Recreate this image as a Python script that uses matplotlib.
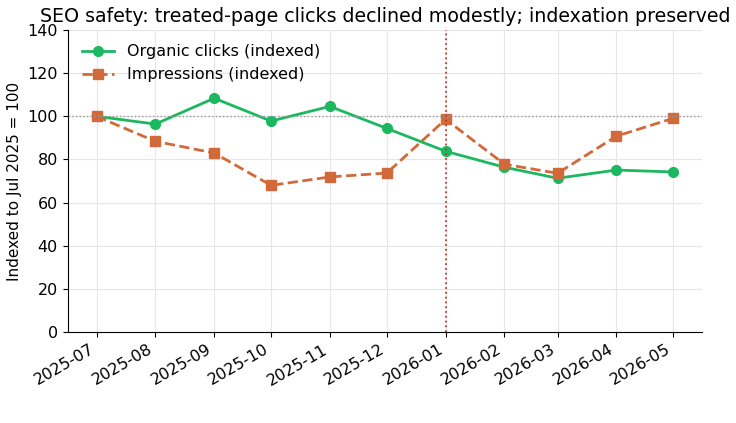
import numpy as np
import pandas as pd
import matplotlib
matplotlib.use("Agg")
from matplotlib import pyplot
import matplotlib.dates as mdates

months = ["2025-07", "2025-08", "2025-09", "2025-10", "2025-11", "2025-12",
          "2026-01", "2026-02", "2026-03", "2026-04", "2026-05"]
clicks = [100.0, 96.4, 108.4, 97.8, 104.6, 94.4, 83.8, 76.4, 71.3, 75.1, 74.2]
impressions = [100.0, 88.4, 83.0, 68.0, 71.9, 73.7, 98.6, 77.8, 73.6, 90.8, 99.1]
change_date = "2026-01"

dates = pd.to_datetime(months)

fig, ax = pyplot.subplots(figsize=(7.36, 4.23), dpi=100)
fig.subplots_adjust(left=0.092, right=0.954, top=0.929, bottom=0.215)

ax.plot(dates, clicks, color="#1bb860", lw=2, marker="o", ms=7,
        label="Organic clicks (indexed)")
ax.plot(dates, impressions, color="#d2693a", lw=2, ls="--", marker="s", ms=7,
        label="Impressions (indexed)")
ax.axhline(100, color="#999999", lw=1, ls=":")
ax.axvline(pd.to_datetime(change_date), color="#c0392b", lw=1.3, ls=":")

ax.set_ylim(0, 140)
ax.set_ylabel("Indexed to Jul 2025 = 100", fontsize=11)
ax.set_title("SEO safety: treated-page clicks declined modestly; indexation preserved",
             fontsize=13.7)
ax.set_xticks(dates)
ax.xaxis.set_major_formatter(mdates.DateFormatter("%Y-%m"))
ax.tick_params(labelsize=11.5)
for lbl in ax.get_xticklabels():
    lbl.set_rotation(30)
    lbl.set_ha("right")
ax.grid(True, color="#e6e6e6", lw=0.8)
ax.set_axisbelow(True)
ax.spines["top"].set_visible(False)
ax.spines["right"].set_visible(False)
ax.legend(loc="upper left", frameon=False, fontsize=11.5)

# caption sits mostly below the bottom edge, as in the source image
fig.text(0.005, 0.001, "SEO safety: treated-page clicks declined modestly; indexation preserved",
         family="serif", fontsize=13, va="top", ha="left", color="#555555")

fig.savefig("out.png", dpi=100)
